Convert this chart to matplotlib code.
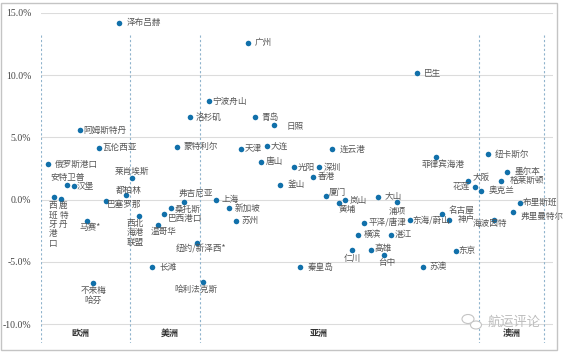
import matplotlib
matplotlib.use("Agg")
import matplotlib.pyplot as plt
from matplotlib.patches import Rectangle, Ellipse

plt.rcParams['font.family'] = ['Noto Sans CJK SC', 'DejaVu Sans']

# ---------------- data ----------------
# x: horizontal position within the region band, y: growth rate (%)
europe_ports = ["泽布吕赫", "阿姆斯特丹", "瓦伦西亚", "俄罗斯港口", "安特卫普", "汉堡",
                "西班牙港口", "鹿特丹", "马赛*", "不来梅哈芬", "莱肖埃斯", "都柏林", "巴塞罗那"]
europe_x = [119, 80, 99.3, 47.7, 67, 74, 54.3, 61, 86.7, 93.3, 132.3, 125.7, 105.7]
europe_y = [14.2, 5.6, 4.16, 2.87, 1.21, 1.07, 0.18, 0.06, -1.74, -6.73, 1.74, 0.36, -0.08]

americas_ports = ["洛杉矶", "蒙特利尔", "西北海港联盟", "温哥华", "巴西港口", "桑托斯",
                  "弗吉尼亚", "长滩", "纽约/新泽西*", "哈利法克斯"]
americas_x = [190, 177.3, 139, 157.7, 164, 170.7, 183.5, 151.7, 196.7, 202.7]
americas_y = [6.62, 4.26, -1.34, -2.03, -1.15, -0.67, -0.16, -5.44, -3.48, -6.59]

asia_ports = ["广州", "宁波舟山", "青岛", "日照", "天津", "大连", "连云港", "唐山", "光阳",
              "深圳", "香港", "釜山", "上海", "新加坡", "苏州", "厦门", "黄埔", "岚山", "大山",
              "浦项", "平泽/唐津", "东海/蔚山", "横滨", "湛江", "仁川", "高雄", "台中", "秦皇岛",
              "名古屋", "神户", "东京", "苏澳", "菲律宾海港", "巴生", "大阪", "花莲"]
asia_x = [248.3, 209.3, 255, 274.3, 241.3, 267.3, 332.3, 261, 294, 319.3, 313.3, 280.3,
          216.3, 229, 235.7, 325.7, 339, 345, 377.7, 397.3, 364.3, 410, 358.3, 390.7,
          351.7, 371.3, 384.3, 300, 442.3, 449, 455.7, 422.7, 435.7, 416.7, 468.3, 475]
asia_y = [12.6, 7.9, 6.62, 6.0, 4.1, 4.28, 4.07, 3.05, 2.6, 2.6, 1.85, 1.21, 0.0, -0.67,
          -1.69, 0.27, -0.3, -0.02, 0.18, -0.16, -1.91, -1.63, -2.84, -2.84, -4.04, -4.04,
          -4.45, -5.44, -1.15, -1.61, -4.1, -5.39, 3.4, 10.15, 1.47, 1.05]

oceania_ports = ["奥克兰", "纽卡斯尔", "墨尔本", "格莱斯顿", "布里斯班", "弗里曼特尔", "海波因特"]
oceania_x = [481, 487.7, 506.7, 500.7, 520, 513.3, 494.3]
oceania_y = [0.72, 3.67, 2.19, 1.53, -0.27, -0.96, -1.63]

region_names = ["欧洲", "美洲", "亚洲", "澳洲"]
region_label_x = [80, 170, 319, 512]
region_bounds = [41, 130, 200, 479, 544]

y_ticks = [-10, -5, 0, 5, 10, 15]
y_tick_labels = ["-10.0%", "-5.0%", "0.0%", "5.0%", "10.0%", "15.0%"]

# ---------------- label placement (style) ----------------
# name: (dx px, dy px (up), ha, va)
place = {
    "泽布吕赫": (8, 0, 'left', 'center'),
    "阿姆斯特丹": (3.5, 0, 'left', 'center'),
    "瓦伦西亚": (3.5, 0, 'left', 'center'),
    "俄罗斯港口": (7, 0, 'left', 'center'),
    "安特卫普": (1, 7.5, 'center', 'center'),
    "汉堡": (3, 0, 'left', 'center'),
    "西班牙港口": (-1.3, -4, 'center', 'top'),
    "鹿特丹": (2.5, -2.4, 'center', 'top'),
    "马赛*": (3.3, -6.3, 'center', 'center'),
    "不来梅哈芬": (0, -3, 'center', 'top'),
    "莱肖埃斯": (0, 6.5, 'center', 'center'),
    "都柏林": (3.3, 5, 'center', 'center'),
    "巴塞罗那": (1, -4, 'left', 'center'),
    "洛杉矶": (6, 0, 'left', 'center'),
    "蒙特利尔": (6, 0, 'left', 'center'),
    "西北海港联盟": (-3.5, -2.7, 'center', 'top'),
    "温哥华": (6.3, -6.7, 'center', 'center'),
    "巴西港口": (4.3, -4.7, 'left', 'center'),
    "桑托斯": (4.3, -1.7, 'left', 'center'),
    "弗吉尼亚": (12, 8, 'center', 'center'),
    "长滩": (7.5, 0, 'left', 'center'),
    "纽约/新泽西*": (4.3, -6, 'center', 'center'),
    "哈利法克斯": (-6.7, -7.3, 'center', 'center'),
    "广州": (6.5, 0, 'left', 'center'),
    "宁波舟山": (3.5, 0, 'left', 'center'),
    "青岛": (6, 0, 'left', 'center'),
    "日照": (12, -1.5, 'left', 'center'),
    "天津": (3, 0, 'left', 'center'),
    "大连": (3, 0, 'left', 'center'),
    "连云港": (7, 0, 'left', 'center'),
    "唐山": (5, 0, 'left', 'center'),
    "光阳": (3.3, 0, 'left', 'center'),
    "深圳": (4.7, 0, 'left', 'center'),
    "香港": (4.4, 0, 'left', 'center'),
    "釜山": (7.3, 0, 'left', 'center'),
    "上海": (5.4, 0, 'left', 'center'),
    "新加坡": (6, 0, 'left', 'center'),
    "苏州": (6, 0, 'left', 'center'),
    "厦门": (3.3, 3.4, 'left', 'center'),
    "黄埔": (7.7, -6.3, 'center', 'center'),
    "岚山": (5, -0.7, 'left', 'center'),
    "大山": (7.3, 0.7, 'left', 'center'),
    "浦项": (0, -10, 'center', 'center'),
    "平泽/唐津": (4, 0, 'left', 'center'),
    "东海/蔚山": (2.7, 0, 'left', 'center'),
    "横滨": (5.7, 0, 'left', 'center'),
    "湛江": (4.3, 0, 'left', 'center'),
    "仁川": (0.8, -8.4, 'center', 'center'),
    "高雄": (3, 1, 'left', 'center'),
    "台中": (2.4, -7.4, 'center', 'center'),
    "秦皇岛": (7.3, 0, 'left', 'center'),
    "名古屋": (6, 4, 'left', 'center'),
    "神户": (8.3, 0, 'left', 'center'),
    "东京": (2.6, 0, 'left', 'center'),
    "苏澳": (7.3, 0, 'left', 'center'),
    "菲律宾海港": (7.6, -7.3, 'center', 'center'),
    "巴生": (7.6, 0, 'left', 'center'),
    "大阪": (4, 4, 'left', 'center'),
    "花莲": (-5, 0, 'right', 'center'),
    "奥克兰": (7.3, 0, 'left', 'center'),
    "纽卡斯尔": (7.3, 0, 'left', 'center'),
    "墨尔本": (8.3, 0.7, 'left', 'center'),
    "格莱斯顿": (8.6, 0, 'left', 'center'),
    "布里斯班": (2.3, 0.6, 'left', 'center'),
    "弗里曼特尔": (7.7, -5, 'left', 'center'),
    "海波因特": (-4, -4, 'center', 'center'),
}
label_text = {
    "西班牙港口": "西\n班\n牙\n港\n口",
    "鹿特丹": "鹿\n特\n丹",
    "西北海港联盟": "西北\n海港\n联盟",
    "不来梅哈芬": "不来梅\n哈芬",
}

# ---------------- figure ----------------
W, H = 564, 354
fig = plt.figure(figsize=(W / 100, H / 100), dpi=100)
fig.patch.set_facecolor('white')
fig.patches.append(Rectangle((1 / W, 1 - 350 / H), 556 / W, 347 / H, transform=fig.transFigure,
                             fill=False, edgecolor='#c4c4c4', linewidth=1.0, zorder=0))

ax_left, ax_right, ax_top, ax_bottom = 41, 553, 13, 342.7
ax = fig.add_axes([ax_left / W, 1 - ax_bottom / H, (ax_right - ax_left) / W, (ax_bottom - ax_top) / H])
ax.set_xlim(ax_left, ax_right)
ax.set_ylim(-11.5, 15)
for s in ax.spines.values():
    s.set_visible(False)
ax.set_xticks([])
ax.set_yticks(y_ticks)
ax.set_yticklabels(y_tick_labels, family='Liberation Serif', fontsize=7, color='#444444')
ax.tick_params(axis='y', length=0, pad=7)
for yt in y_ticks:
    ax.axhline(yt, color='#dcdcdc', linewidth=0.8, zorder=0)

for xb in region_bounds:
    ax.plot([xb, xb], [13.2, -11.5], color='#8fb3cc', linewidth=0.8,
            linestyle=(0, (2, 2)), zorder=1)

dot_color = '#1170aa'
all_ports = europe_ports + americas_ports + asia_ports + oceania_ports
all_x = europe_x + americas_x + asia_x + oceania_x
all_y = europe_y + americas_y + asia_y + oceania_y
ax.scatter(all_x, all_y, s=16, color=dot_color, zorder=3, linewidths=0)

for name, x, y in zip(all_ports, all_x, all_y):
    dx, dy, ha, va = place.get(name, (6, 0, 'left', 'center'))
    ax.annotate(label_text.get(name, name), (x, y), xytext=(dx, dy), textcoords='offset pixels',
                ha=ha, va=va, fontsize=6.2, color='#555555', fontweight='light',
                linespacing=1.05, zorder=4)

for name, x in zip(region_names, region_label_x):
    ax.text(x, -10.78, name, ha='center', va='center', fontsize=6.5, fontweight='bold',
            color='#333333', zorder=4)

# watermark
fig.text(514 / W, 1 - 322 / H, "航运评论", ha='center', va='center', fontsize=9.5,
         color='#bdbdbd', fontweight='light')
fig.patches.append(Ellipse((468 / W, 1 - 319 / H), 12 / W, 9 / H, transform=fig.transFigure,
                           fill=False, edgecolor='#c4c4c4', linewidth=0.8))
fig.patches.append(Ellipse((476 / W, 1 - 325 / H), 11 / W, 8 / H, transform=fig.transFigure,
                           facecolor='white', edgecolor='#c4c4c4', linewidth=0.8))

fig.savefig("out.png", dpi=100)
